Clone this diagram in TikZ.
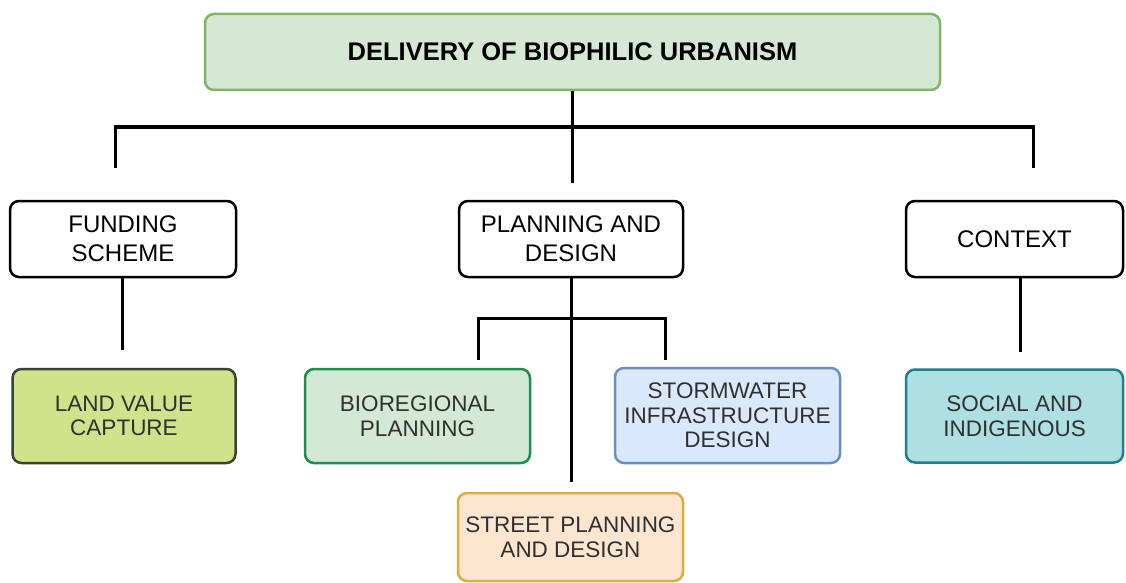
\documentclass[tikz,border=0pt]{standalone}
\usepackage{fontspec}
\setmainfont{Liberation Sans}
\definecolor{topfill}{HTML}{D5E8D4}
\definecolor{topdraw}{HTML}{82B366}
\definecolor{landfill}{HTML}{CFE38A}
\definecolor{landdraw}{HTML}{3A4230}
\definecolor{biofill}{HTML}{D3E9D6}
\definecolor{biodraw}{HTML}{1F8F50}
\definecolor{stormfill}{HTML}{DAE8FC}
\definecolor{stormdraw}{HTML}{6C8EBF}
\definecolor{streetfill}{HTML}{FDE6CF}
\definecolor{streetdraw}{HTML}{D6B040}
\definecolor{socialfill}{HTML}{AEDFE3}
\definecolor{socialdraw}{HTML}{1E8088}
\definecolor{txtgrey}{HTML}{303030}
\begin{document}
\begin{tikzpicture}[x=1pt,y=-1pt,
  box/.style={draw, rounded corners=9pt, line width=2.5pt, align=center, inner sep=0pt},
  whitebox/.style={box, fill=white, draw=black, text=black, minimum width=#1,
    font=\fontsize{24}{29}\selectfont},
  colbox/.style={box, text=txtgrey, font=\fontsize{22.5}{24.5}\selectfont},
  conn/.style={line width=3pt, draw=black}]
\useasboundingbox (0,0) rectangle (1126,583);
\fill[white] (0,0) rectangle (1126,583);
% top
\node[box, fill=topfill, draw=topdraw, minimum width=735pt, minimum height=76pt,
  font=\fontsize{25.5}{27}\selectfont\bfseries, text=black] (top) at (572.5,52) {DELIVERY OF BIOPHILIC URBANISM};
% second level
\node[whitebox=226pt, minimum height=76pt] (fund) at (123,239) {FUNDING\\SCHEME};
\node[whitebox=224pt, minimum height=76pt] (plan) at (571,239) {PLANNING AND\\DESIGN};
\node[whitebox=217pt, minimum height=76pt] (ctx) at (1014.5,239) {CONTEXT};
% third level
\node[colbox, fill=landfill, draw=landdraw, minimum width=223pt, minimum height=94pt] (land) at (124,416) {LAND VALUE\\CAPTURE};
\node[colbox, fill=biofill, draw=biodraw, minimum width=225pt, minimum height=94pt] (bio) at (417.5,416) {BIOREGIONAL\\PLANNING};
\node[colbox, fill=stormfill, draw=stormdraw, minimum width=225pt, minimum height=95pt] (storm) at (727.5,415.5) {STORMWATER\\INFRASTRUCTURE\\DESIGN};
\node[colbox, fill=streetfill, draw=streetdraw, minimum width=225pt, minimum height=88pt] (street) at (570.5,537) {STREET PLANNING\\AND DESIGN};
\node[colbox, fill=socialfill, draw=socialdraw, minimum width=217pt, minimum height=93pt] (social) at (1014.5,416) {SOCIAL AND\\INDIGENOUS};
% connector end points
\coordinate (topend) at (572.5,183);
\coordinate (fundend) at (115,168);
\coordinate (ctxend) at (1033,168);
\coordinate (barL) at (115,127);
\coordinate (barR) at (1033,127);
\coordinate (planend) at (571,482);
\coordinate (bioend) at (478,360);
\coordinate (stormend) at (665,360);
\coordinate (pbarL) at (478,318);
\coordinate (pbarR) at (665,318);
\coordinate (landend) at (122,350);
\coordinate (socialend) at (1020,352);
% connectors
\draw[conn] (top.south) -- (topend);
\draw[conn] (fundend) -- (barL) -- (barR) -- (ctxend);
\draw[conn] (plan.south) -- (planend);
\draw[conn] (bioend) -- (pbarL) -- (pbarR) -- (stormend);
\draw[conn] (fund.south) ++(-1,0) -- (landend);
\draw[conn] (ctx.south) ++(5.5,0) -- (socialend);
\end{tikzpicture}
\end{document}
